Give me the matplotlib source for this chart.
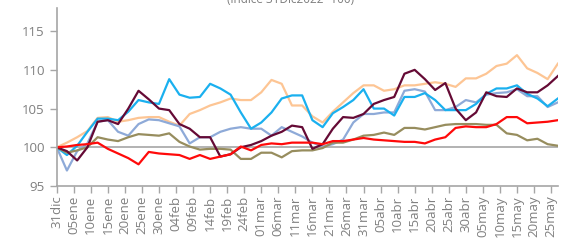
import matplotlib
matplotlib.use("Agg")
import matplotlib.pyplot as plt
import numpy as np

# dias desde el 31dic2022, cada 3 dias
dias = np.arange(0, 148, 3)

rojo = [100, 100.1, 100.3, 100.4, 100.6, 99.8, 99.2, 98.6, 97.8, 99.4,
        99.2, 99.1, 99.0, 98.5, 99.0, 98.5, 98.8, 99.1, 100.1, 99.6,
        100.3, 100.5, 100.4, 100.6, 100.6, 100.6, 100.4, 100.8, 100.8, 101.0,
        101.2, 101.0, 100.9, 100.8, 100.7, 100.7, 100.5, 101.0, 101.3, 102.5,
        102.7, 102.6, 102.6, 103.0, 103.9, 103.9, 103.1, 103.2, 103.3, 103.5]

oliva = [100, 99.3, 99.6, 100.0, 101.3, 101.0, 100.8, 101.3, 101.7, 101.6,
         101.5, 101.8, 100.7, 100.1, 99.7, 99.8, 99.8, 99.7, 98.5, 98.5,
         99.3, 99.3, 98.7, 99.5, 99.6, 99.6, 99.9, 100.6, 100.6, 101.0,
         101.5, 101.6, 101.9, 101.6, 102.5, 102.5, 102.3, 102.6, 102.9, 103.0,
         103.0, 103.0, 102.9, 102.9, 101.8, 101.6, 100.9, 101.1, 100.4, 100.2]

granate = [100, 99.5, 98.3, 100.0, 103.3, 103.5, 103.0, 105.0, 107.3, 106.2,
           105.0, 104.8, 103.0, 102.4, 101.3, 101.3, 98.8, 99.1, 100.0, 100.3,
           100.8, 101.5, 102.0, 102.8, 102.6, 99.8, 100.4, 102.4, 103.9, 103.8,
           104.3, 105.6, 106.1, 106.5, 109.5, 110.0, 108.8, 107.4, 108.3, 105.0,
           103.5, 104.5, 107.1, 106.6, 106.5, 107.6, 107.1, 107.1, 108.0, 109.2]

celeste = [100, 99.0, 100.2, 102.0, 103.7, 103.7, 103.5, 104.6, 106.1, 105.8,
           105.6, 108.8, 106.8, 106.4, 106.5, 108.2, 107.6, 106.8, 104.5, 102.4,
           103.2, 104.5, 106.3, 106.7, 106.7, 103.5, 102.6, 104.4, 105.2, 106.1,
           107.5, 105.0, 105.0, 104.1, 106.5, 106.5, 107.0, 106.1, 104.8, 104.8,
           104.8, 105.6, 106.9, 107.6, 107.6, 108.0, 106.9, 106.3, 105.3, 106.3]

melocoton = [100, 100.6, 101.3, 102.1, 103.8, 103.9, 103.3, 103.5, 103.8, 103.9,
             103.9, 103.3, 102.8, 104.3, 104.8, 105.4, 105.8, 106.3, 106.1, 106.1,
             107.1, 108.7, 108.2, 105.4, 105.4, 104.0, 103.2, 104.6, 105.8, 107.0,
             108.0, 108.0, 107.3, 107.5, 108.0, 108.0, 108.2, 108.4, 108.2, 107.8,
             108.9, 108.9, 109.5, 110.5, 110.8, 111.9, 110.2, 109.6, 108.8, 110.8]

gris_azul = [100, 97.0, 99.5, 100.5, 103.3, 103.5, 102.0, 101.5, 103.0, 103.6,
             103.5, 103.1, 102.7, 100.5, 101.3, 101.3, 102.0, 102.4, 102.6, 102.4,
             102.4, 101.5, 102.6, 102.0, 101.4, 100.6, 100.1, 100.4, 101.0, 103.2,
             104.3, 104.3, 104.5, 104.5, 107.3, 107.5, 107.2, 104.8, 104.8, 105.2,
             106.1, 105.8, 106.8, 107.0, 107.1, 107.5, 106.6, 106.6, 105.2, 105.8]

etiquetas = ["31dic", "05ene", "10ene", "15ene", "20ene", "25ene", "30ene",
             "04feb", "09feb", "14feb", "19feb", "24feb", "01mar", "06mar",
             "11mar", "16mar", "21mar", "26mar", "31mar", "05abr", "10abr",
             "15abr", "20abr", "25abr", "30abr", "05may", "10may", "15may",
             "20may", "25may"]
pos_etiquetas = np.arange(0, 146, 5)

plt.rcParams['font.family'] = ['Open Sans', 'DejaVu Sans']
gris = '#7f7f7f'

fig = plt.figure(figsize=(5.71, 2.4), dpi=100)
ax = fig.add_axes([0.0993, 0.225, 0.8777, 0.742])

ax.axhline(100, color='#a6a6a6', lw=1.2, zorder=1)

ax.plot(dias, melocoton, color='#fdc594', lw=1.6)
ax.plot(dias, gris_azul, color='#8eaad8', lw=1.6)
ax.plot(dias, celeste, color='#1ab0ef', lw=1.6)
ax.plot(dias, oliva, color='#978d5e', lw=1.6)
ax.plot(dias, granate, color='#650a35', lw=1.6)
ax.plot(dias, rojo, color='#ff0a0a', lw=1.6)

ax.set_xlim(0, 147)
ax.set_ylim(95, 118)
ax.set_yticks([95, 100, 105, 110, 115])
ax.set_xticks(pos_etiquetas)
ax.set_xticklabels(etiquetas, rotation=90)

for s in ['top', 'right']:
    ax.spines[s].set_visible(False)
for s in ['left', 'bottom']:
    ax.spines[s].set_color('#a6a6a6')
    ax.spines[s].set_linewidth(1.2)

ax.tick_params(axis='both', colors='#a6a6a6', labelcolor=gris, labelsize=9.5,
               length=5, width=1.0)
ax.tick_params(axis='x', pad=2)

fig.text(0.508, 0.9875, "(índice 31Dic2022=100)", ha='center', va='baseline',
         color=gris, fontsize=8.5)

fig.savefig("out.png", dpi=100)
